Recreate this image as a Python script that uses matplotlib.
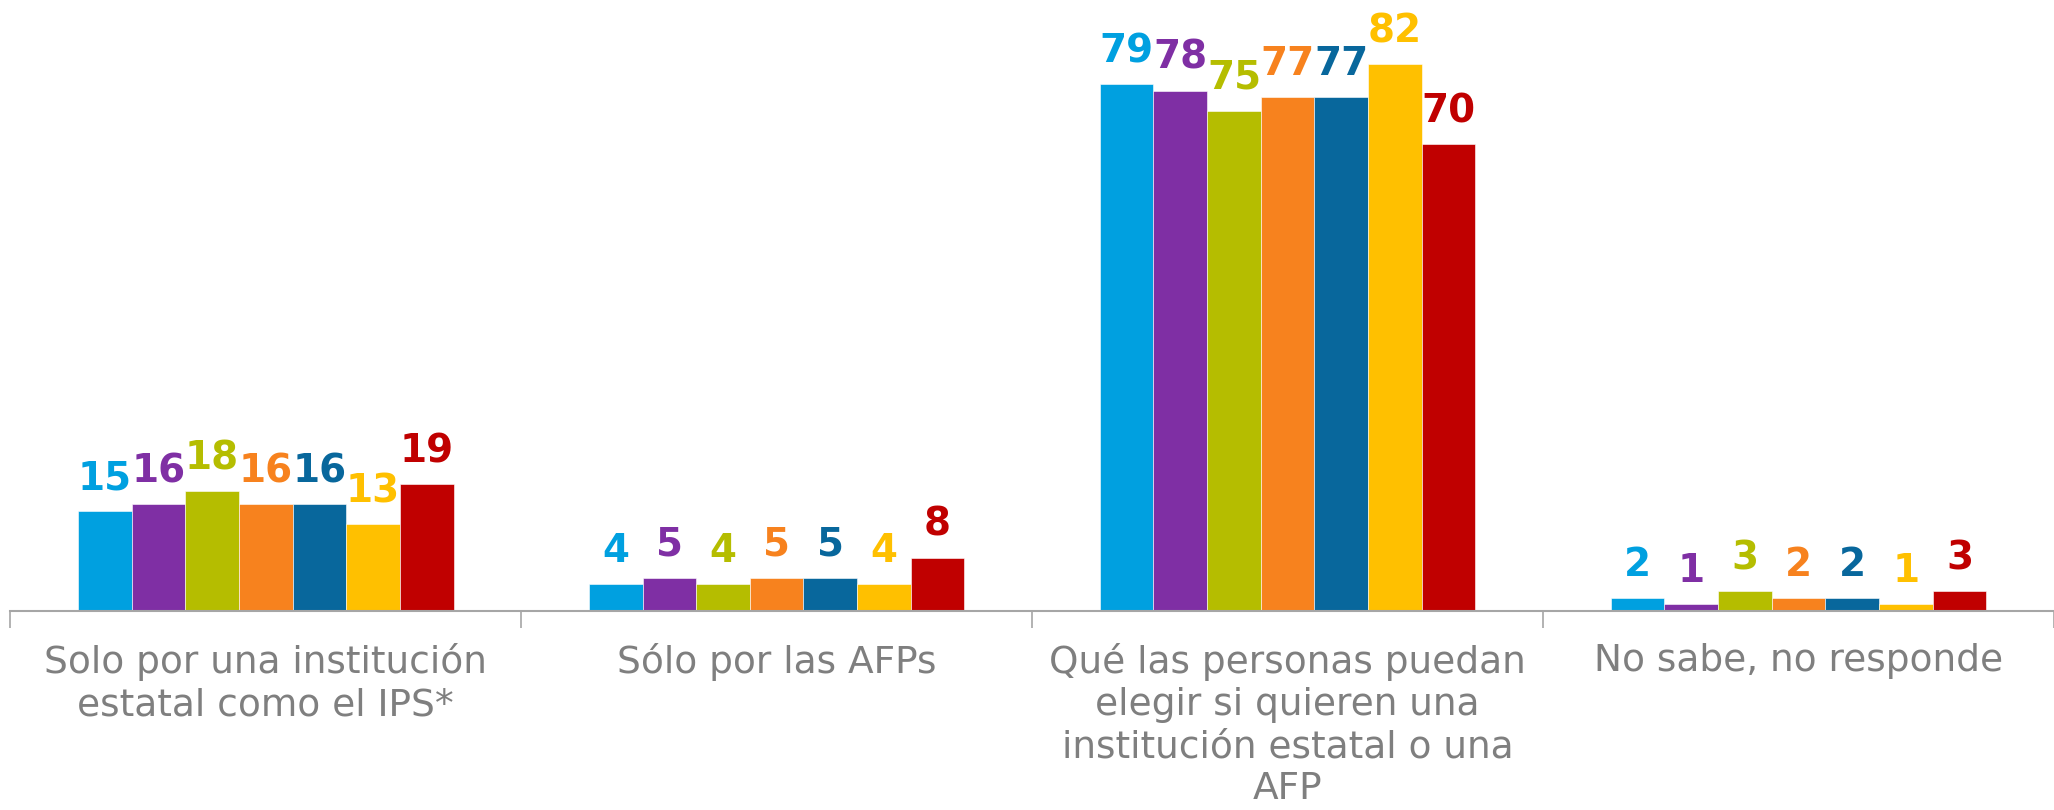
import matplotlib.pyplot as plt
import numpy as np

# Datos del gráfico
categorias = ['Solo por una institución\nestatal como el IPS*',
              'Sólo por las AFPs',
              'Qué las personas puedan\nelegir si quieren una\ninstitución estatal o una\nAFP',
              'No sabe, no responde']
series = [
    [15, 4, 79, 2],
    [16, 5, 78, 1],
    [18, 4, 75, 3],
    [16, 5, 77, 2],
    [16, 5, 77, 2],
    [13, 4, 82, 1],
    [19, 8, 70, 3],
]
colores = ['#00A0E0', '#7F2FA4', '#B5BD00', '#F7821E', '#08679C', '#FFC000', '#C00000']

fig = plt.figure(figsize=(20.54, 8.10), dpi=100)
ax = fig.add_axes([0.005, 0.2457, 0.995, 0.7543])

x = np.arange(len(categorias))
n = len(series)
grupo = 0.735
ancho = grupo / n

for i, (vals, col) in enumerate(zip(series, colores)):
    pos = x - grupo / 2 + ancho * (i + 0.5)
    ax.bar(pos, vals, width=ancho, color=col, edgecolor='white', linewidth=0.4)
    for px, v in zip(pos, vals):
        ax.annotate(str(v), (px, v), xytext=(0, 10), textcoords='offset points',
                    ha='center', va='bottom', color=col, fontsize=28,
                    fontweight='bold', family='DejaVu Sans')

ax.set_xlim(-0.5, len(categorias) - 0.5)
ax.set_ylim(0, 91.6)

for s in ['top', 'right', 'left']:
    ax.spines[s].set_visible(False)
ax.spines['bottom'].set_color('#A6A6A6')
ax.spines['bottom'].set_linewidth(1.5)
ax.set_yticks([])

# marcas entre categorías
ax.set_xticks(np.arange(len(categorias) + 1) - 0.5)
ax.set_xticklabels([])
ax.tick_params(axis='x', length=12, width=1.2, color='#A6A6A6', direction='out')

for xi, cat in zip(x, categorias):
    ax.text(xi, -4.8, cat, ha='center', va='top', color='#7F7F7F',
            fontsize=27, linespacing=1.22, family='DejaVu Sans',
            clip_on=False)

fig.savefig('out.png', dpi=100)
